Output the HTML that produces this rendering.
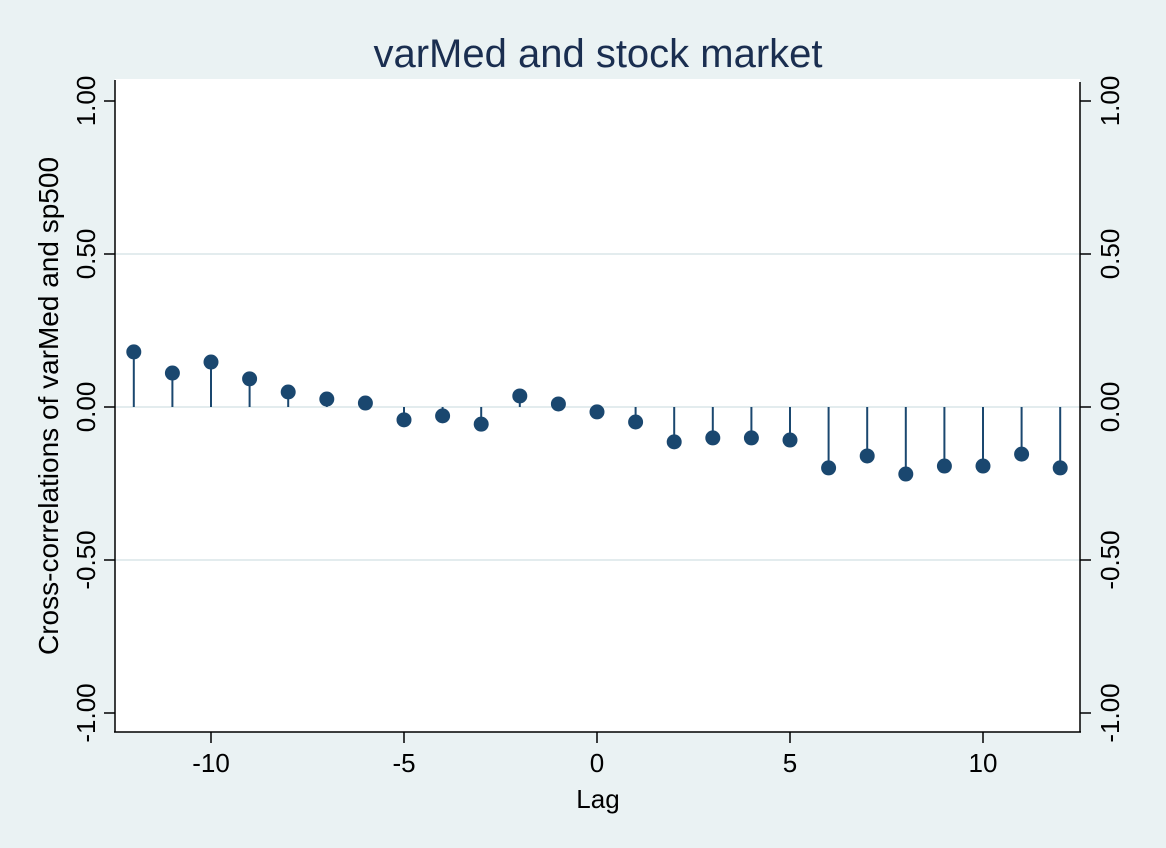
<!DOCTYPE html>
<html><head><meta charset="utf-8"><style>
html,body{margin:0;padding:0;background:#eaf2f3;}
svg{display:block;font-family:"Liberation Sans",Arial,sans-serif;}
</style></head><body>
<svg id="chart" width="1166" height="848" viewBox="0 0 1166 848">
<rect x="0" y="0" width="1166" height="848" fill="#eaf2f3"/>
<text x="598" y="67" font-size="40" text-anchor="middle" fill="#1a2e50">varMed and stock market</text>
<rect x="115" y="79" width="965" height="653" fill="#ffffff"/>
<g id="grid"></g>
<g id="axes"></g>
<g id="marks"></g>
<text x="598" y="808" font-size="26" text-anchor="middle" fill="#000">Lag</text>
<text transform="translate(58,406) rotate(-90)" font-size="28" text-anchor="middle" fill="#000">Cross-correlations of varMed and sp500</text>
</svg>
<script>
const lags = [-12,-11,-10,-9,-8,-7,-6,-5,-4,-3,-2,-1,0,1,2,3,4,5,6,7,8,9,10,11,12];
const correlations = [0.18,0.111,0.147,0.092,0.049,0.026,0.013,-0.042,-0.029,-0.056,0.036,0.01,-0.016,-0.049,-0.114,-0.101,-0.101,-0.108,-0.199,-0.16,-0.219,-0.193,-0.193,-0.154,-0.199];
const yTicks = [-1,-0.5,0,0.5,1];
const yTickLabels = ["-1.00","-0.50","0.00","0.50","1.00"];
const xTicks = [-10,-5,0,5,10];
const xTickLabels = ["-10","-5","0","5","10"];

const NS = "http://www.w3.org/2000/svg";
function X(v){ return 597 + v*38.6; }
function Y(v){ return 407 - v*306; }
function mk(tag, attrs, parent, txt){
  const e = document.createElementNS(NS, tag);
  for (const k in attrs) e.setAttribute(k, attrs[k]);
  if (txt !== undefined) e.textContent = txt;
  document.getElementById(parent).appendChild(e);
  return e;
}
yTicks.forEach((t,i)=>{
  if (t !== -1 && t !== 1) {
    const g = mk('line',{x1:115,x2:1080,y1:Y(t),y2:Y(t),stroke:'#e3ecee','stroke-width':2},'grid');
    
    
  }
  const tl = mk('line',{x1:104,x2:115,y1:Y(t),y2:Y(t),stroke:'#000','stroke-width':1.5},'axes');
  
  
  const tr = mk('line',{x1:1080,x2:1091,y1:Y(t),y2:Y(t),stroke:'#000','stroke-width':1.5},'axes');
  
  
  const ll = mk('text',{transform:`translate(95,${Y(t)}) rotate(-90)`,'font-size':26,'text-anchor':'middle',fill:'#000'},'axes',yTickLabels[i]);
  
  
  const rl = mk('text',{transform:`translate(1119,${Y(t)}) rotate(-90)`,'font-size':26,'text-anchor':'middle',fill:'#000'},'axes',yTickLabels[i]);
  
  
});
xTicks.forEach((t,i)=>{
  const tk = mk('line',{x1:X(t),x2:X(t),y1:732,y2:743,stroke:'#000','stroke-width':1.5},'axes');
  
  
  const lb = mk('text',{x:X(t),y:772,'font-size':26,'text-anchor':'middle',fill:'#000'},'axes',xTickLabels[i]);
  
  
});
const la = mk('line',{x1:115,x2:115,y1:80,y2:732,stroke:'#000','stroke-width':1.5},'axes');


const ra = mk('line',{x1:1080,x2:1080,y1:82,y2:732,stroke:'#000','stroke-width':1.5},'axes');


const ba = mk('line',{x1:114,x2:1081,y1:732,y2:732,stroke:'#000','stroke-width':1.5},'axes');


lags.forEach((l,i)=>{
  const s = mk('line',{x1:X(l),x2:X(l),y1:Y(0),y2:Y(correlations[i]),stroke:'#1a476f','stroke-width':2},'marks');
  
  
  const c = mk('circle',{cx:X(l),cy:Y(correlations[i]),r:7.5,fill:'#1a476f'},'marks');
  
  
});
</script>
</body></html>
